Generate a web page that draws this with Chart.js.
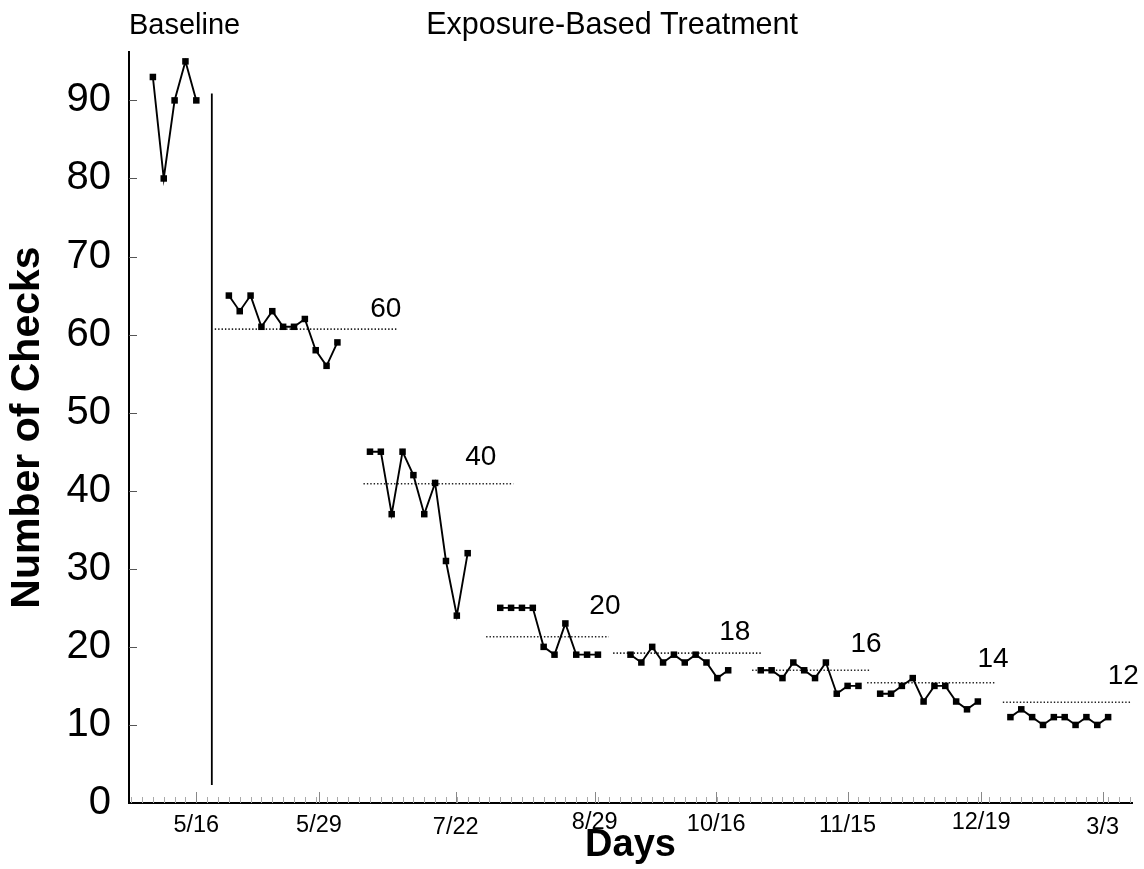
<!DOCTYPE html>
<html>
<head>
<meta charset="utf-8">
<script src="https://cdn.jsdelivr.net/npm/chart.js@4/dist/chart.umd.min.js"></script>
<style>
  html, body { margin: 0; padding: 0; background: #ffffff; }
  #wrap { width: 1144px; height: 869px; }
</style>
</head>
<body>
<div id="wrap"><canvas id="c" width="1144" height="869"></canvas></div>
<script>
// ---------- data ----------
const phaseStartSession = [0, 7, 20, 32, 44, 56, 67, 79];
const baseline  = [93, 80, 90, 95, 90];
const phase60   = [65, 63, 65, 61, 63, 61, 61, 62, 58, 56, 59];
const phase40   = [45, 45, 37, 45, 42, 37, 41, 31, 24, 32];
const phase20   = [25, 25, 25, 25, 20, 19, 23, 19, 19, 19];
const phase18   = [19, 18, 20, 18, 19, 18, 19, 18, 16, 17];
const phase16   = [17, 17, 16, 18, 17, 16, 18, 14, 15, 15];
const phase14   = [14, 14, 15, 16, 13, 15, 15, 13, 12, 13];
const phase12   = [11, 12, 11, 10, 11, 11, 10, 11, 10, 11];

const criterionText  = ['60', '40', '20', '18', '16', '14', '12'];
const criterionLevel = [60.7, 40.9, 21.3, 19.2, 17.0, 15.4, 12.9];
const criterionFrom  = [5.7, 19.4, 30.7, 42.4, 55.2, 65.8, 78.3];
const criterionTo    = [22.5, 33.2, 42.0, 56.1, 66.1, 77.7, 90.15];

const phaseChangeSession = 5.43;
const phaseChangeRange = [2.3, 90.9];

const dateLabels   = ['5/16', '5/29', '7/22', '8/29', '10/16', '11/15', '12/19', '3/3'];
const dateSessions = [4.0, 15.3, 27.9, 40.7, 51.9, 64.0, 76.3, 87.5];

const yTickLabels = ['0', '10', '20', '30', '40', '50', '60', '70', '80', '90'];

// ---------- build datasets ----------
const FONT = "'Liberation Sans', Arial, Helvetica, sans-serif";
const phases = [baseline, phase60, phase40, phase20, phase18, phase16, phase14, phase12];

const datasets = [];
phases.forEach((vals, p) => {
  datasets.push({
    data: vals.map((v, i) => ({ x: phaseStartSession[p] + i, y: v })),
    borderColor: '#000',
    borderWidth: 1.9,
    pointStyle: 'rect',
    pointRadius: 4.6,
    pointBackgroundColor: '#000',
    pointBorderColor: '#000',
    pointBorderWidth: 0,
    tension: 0,
    clip: false
  });
});
criterionLevel.forEach((lvl, k) => {
  datasets.push({
    data: [{ x: criterionFrom[k], y: lvl }, { x: criterionTo[k], y: lvl }],
    borderColor: '#222',
    borderWidth: 1.6,
    borderDash: [1.4, 2],
    pointRadius: 0,
    clip: false
  });
});
datasets.push({
  data: [{ x: phaseChangeSession, y: phaseChangeRange[0] }, { x: phaseChangeSession, y: phaseChangeRange[1] }],
  borderColor: '#000',
  borderWidth: 1.8,
  pointRadius: 0,
  clip: false
});

// annotation anchors (data units) for the criterion numbers and phase titles
const annot = {
  criterionAnchorX: [21.46, 30.2, 41.64, 53.6, 65.7, 77.4, 89.4],
  criterionAnchorY: [63.3, 44.3, 25.25, 21.9, 20.36, 18.41, 16.28],
  phaseTitles: [
    { text: 'Baseline', x: 2.92, font: 29 },
    { text: 'Exposure-Based Treatment', x: 42.3, font: 30.5 }
  ]
};
// per-label line height (staggered date labels as in the original)
const dateLabelLineHeight = [1.2, 1.2, 1.42, 1.0, 1.17, 1.2, 1.0, 1.42];

const innerTicks = {
  id: 'innerTicks',
  afterDraw(chart) {
    const ctx = chart.ctx;
    const xs = chart.scales.x, ys = chart.scales.y;
    const area = chart.chartArea;
    ctx.save();
    // y axis inward ticks
    ctx.strokeStyle = '#555';
    ctx.lineWidth = 1;
    ys.ticks.forEach(t => {
      if (t.value % 5 !== 0 || t.value === 0) return;
      const py = Math.round(ys.getPixelForValue(t.value)) + 0.5;
      ctx.beginPath();
      ctx.moveTo(area.left, py);
      ctx.lineTo(area.left + 8, py);
      ctx.stroke();
    });
    // x axis inward ticks at each session
    ctx.strokeStyle = '#aaa';
    for (let s = Math.ceil(xs.min); s <= Math.floor(xs.max); s++) {
      const px = Math.round(xs.getPixelForValue(s)) + 0.5;
      ctx.beginPath();
      ctx.moveTo(px, area.bottom);
      ctx.lineTo(px, area.bottom - 6);
      ctx.stroke();
    }
    ctx.strokeStyle = '#888';
    dateSessions.forEach(s => {
      const px = Math.round(xs.getPixelForValue(s)) + 0.5;
      ctx.beginPath();
      ctx.moveTo(px, area.bottom);
      ctx.lineTo(px, area.bottom - 11);
      ctx.stroke();
    });
    // criterion numbers
    ctx.fillStyle = '#000';
    ctx.textAlign = 'center';
    ctx.textBaseline = 'middle';
    ctx.font = '28px ' + FONT;
    criterionText.forEach((txt, k) => {
      ctx.fillText(txt, xs.getPixelForValue(annot.criterionAnchorX[k]), ys.getPixelForValue(annot.criterionAnchorY[k]));
    });
    // phase titles
    ctx.textBaseline = 'alphabetic';
    annot.phaseTitles.forEach(pt => {
      ctx.font = pt.font + 'px ' + FONT;
      ctx.fillText(pt.text, xs.getPixelForValue(pt.x), 34);
    });
    ctx.restore();
  }
};

new Chart(document.getElementById('c'), {
  type: 'line',
  data: { datasets },
  options: {
    responsive: false,
    animation: false,
    events: [],
    layout: { padding: { top: 52, right: 12, left: 0, bottom: 0 } },
    plugins: { legend: { display: false }, tooltip: { enabled: false } },
    scales: {
      x: {
        type: 'linear',
        min: -2.2,
        max: 90.2,
        grid: { display: false, drawTicks: false },
        border: { display: true, color: '#000', width: 2 },
        afterBuildTicks(scale) {
          scale.ticks = dateSessions.map(v => ({ value: v }));
        },
        afterFit(scale) { scale.height = 66; },
        ticks: {
          autoSkip: false,
          maxRotation: 0,
          padding: 8,
          color: '#000',
          font: (c) => ({ family: FONT, size: 23.5, lineHeight: dateLabelLineHeight[c.index] || 1.2 }),
          callback(value, index) { return dateLabels[index]; }
        },
        title: {
          display: true,
          text: 'Days',
          color: '#000',
          font: { family: FONT, size: 38, weight: 'bold' },
          padding: { top: 0, bottom: 1 }
        }
      },
      y: {
        min: 0,
        max: 96.2,
        grid: { display: false, drawTicks: false },
        border: { display: true, color: '#000', width: 2 },
        afterFit(scale) { scale.width = 129; },
        ticks: {
          stepSize: 5,
          padding: 18,
          color: '#000',
          font: { family: FONT, size: 40 },
          callback(value) {
            return value % 10 === 0 ? yTickLabels[value / 10] : '';
          }
        },
        title: {
          display: true,
          text: 'Number of Checks',
          color: '#000',
          font: { family: FONT, size: 41, weight: 'bold' },
          padding: { top: 3, bottom: 0 }
        }
      }
    }
  },
  plugins: [innerTicks]
});
</script>
</body>
</html>
